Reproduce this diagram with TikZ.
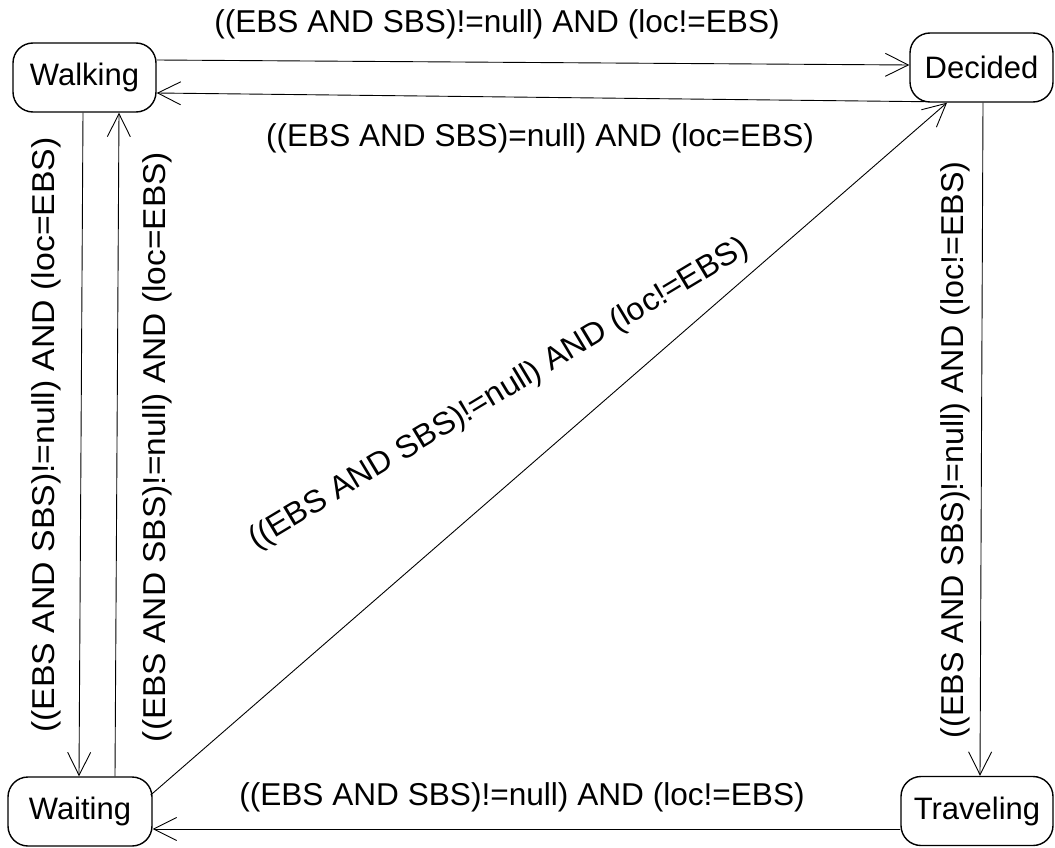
\documentclass[tikz,border=0pt]{standalone}
\usepackage{fontspec}
\setmainfont{Liberation Sans}
\usetikzlibrary{arrows.meta,calc}
\begin{document}
\begin{tikzpicture}[x=1pt,y=-1pt,
  state/.style={draw,line width=1.4pt,rounded corners=20pt,minimum height=69pt,
    inner sep=0pt,font=\fontsize{31}{37}\selectfont},
  trans/.style={line width=0.9pt,-{Straight Barb[length=23pt,width=23pt,line width=0.9pt]}},
  guard/.style={inner sep=0pt,font=\fontsize{31.6}{37}\selectfont}]
\useasboundingbox (0,0) rectangle (1055,848);

% states
\node[state,minimum width=143pt] (Walking) at (84.5,77.5) {Walking};
\node[state,minimum width=143pt] (Decided) at (981.5,67.5) {Decided};
\node[state,minimum width=144pt] (Waiting) at (80,811.5) {Waiting};
\node[state,minimum width=152pt] (Traveling) at (977,811) {Traveling};

% transitions
\draw[trans] ($(Walking.east)+(0,-17.5)$) -- ($(Decided.west)+(0,-2.5)$);
\draw[trans] ($(Decided.south west)+(15,-1)$) -- ($(Walking.east)+(0,15.5)$);
\draw[trans] ($(Walking.south)+(-1.5,0)$) -- ($(Waiting.north)+(-1,0)$);
\draw[trans] ($(Waiting.north)+(35,0)$) -- ($(Walking.south)+(34.5,0)$);
\draw[trans] ($(Waiting.east)+(-2,-16.5)$) -- ($(Decided.south)+(-34.5,0)$);
\draw[trans] ($(Decided.south)+(1.5,0)$) -- ($(Traveling.north)+(3,0)$);
\draw[trans] ($(Traveling.west)+(0,18)$) -- ($(Waiting.east)+(0,17.5)$);

% guards
\node[guard] (g1) at (497,24) {((EBS AND SBS)!=null) AND (loc!=EBS)};
\node[guard] (g2) at (540,138) {((EBS AND SBS)=null) AND (loc=EBS)};
\node[guard,rotate=90,xscale=1.07] (g3) at (46,435) {((EBS AND SBS)!=null) AND (loc=EBS)};
\node[guard,rotate=90,xscale=1.06] (g4) at (157,447) {((EBS AND SBS)!=null) AND (loc=EBS)};
\node[guard,rotate=31,xscale=1.02] (g5) at (499,394) {((EBS AND SBS)!=null) AND (loc!=EBS)};
\node[guard,rotate=90,xscale=1.02] (g6) at (955,450) {((EBS AND SBS)!=null) AND (loc!=EBS)};
\node[guard] (g7) at (522,797) {((EBS AND SBS)!=null) AND (loc!=EBS)};
\end{tikzpicture}
\end{document}
